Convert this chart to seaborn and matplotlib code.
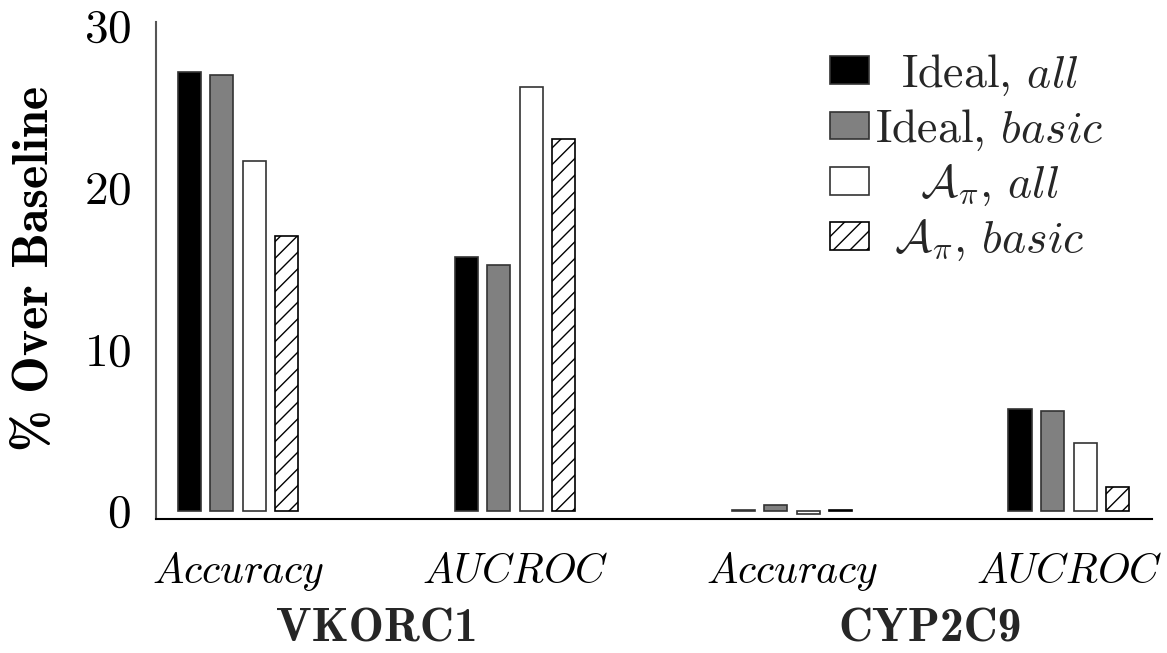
import matplotlib
matplotlib.use('Agg')
import matplotlib.pyplot as plt
import pandas as pd
import seaborn as sns

# 값은 그림에서 읽은 추정치
genes   = ['VKORC1', 'VKORC1', 'CYP2C9', 'CYP2C9']
metrics = ['Accuracy', 'AUCROC', 'Accuracy', 'AUCROC']
methods = [r'Ideal, $\mathit{all}$', r'Ideal, $\mathit{basic}$',
           r'$\mathcal{A}_\pi$, $\mathit{all}$', r'$\mathcal{A}_\pi$, $\mathit{basic}$']
ideal_all   = [27.1, 15.7, 0.05, 6.3]
ideal_basic = [26.9, 15.2, 0.35, 6.2]
apix_all    = [21.6, 26.2, -0.2, 4.2]
apix_basic  = [17.0, 23.0, 0.05, 1.5]
yticks = [0, 10, 20, 30]

sns.set_style('white')
plt.rcParams['font.family'] = 'serif'
plt.rcParams['font.serif'] = ['cmr10']
plt.rcParams['mathtext.fontset'] = 'cm'
plt.rcParams['axes.formatter.use_mathtext'] = True
plt.rcParams['hatch.linewidth'] = 1.0

keys = [g + ' ' + m for g, m in zip(genes, metrics)]
rows = []
for meth, vals in zip(methods, [ideal_all, ideal_basic, apix_all, apix_basic]):
    for k, v in zip(keys, vals):
        rows.append({'key': k, 'method': meth, 'value': v})
df = pd.DataFrame(rows)

fig = plt.figure(figsize=(11.67, 6.53), dpi=100)
ax = fig.add_axes([0.1337, 0.2052, 0.8534, 0.7611])

sns.barplot(data=df, x='key', y='value', hue='method', order=keys, hue_order=methods,
            palette=['black', '#808080', 'white', 'white'], edgecolor='#333333',
            linewidth=1.2, width=0.47, gap=0.29, legend=False, ax=ax)

for p in ax.containers[3].patches:
    p.set_hatch('//')
    p.set_edgecolor('black')

ax.set_xlim(-0.296, 3.30)
ax.set_ylim(-0.5, 30.2)
ax.set_yticks(yticks)
ax.set_xticks(range(4))
ax.set_xticklabels(['$' + m + '$' for m in metrics], fontsize=30)
for lbl in ax.get_xticklabels():
    lbl.set_va('baseline')
ax.tick_params(axis='y', direction='inout', length=14, width=1.0, color='#777777',
               labelsize=34, labelcolor='black', pad=11)
ax.tick_params(axis='x', direction='out', length=14, width=1.0, color='#999999',
               labelcolor='black', pad=32)

for s in ['top', 'right']:
    ax.spines[s].set_visible(False)
ax.spines['left'].set_color('#555555')
ax.spines['left'].set_linewidth(1.5)
ax.spines['bottom'].set_color('black')
ax.spines['bottom'].set_linewidth(1.5)

ax.set_xlabel('')
ax.set_ylabel('% Over Baseline', family='cmb10', fontsize=36, color='black')
ax.yaxis.set_label_coords(-0.098, 0.505)

# 유전자 그룹 이름
tr = ax.get_xaxis_transform()
ax.text(0.5, -0.222, 'VKORC1', family='cmb10', transform=tr, ha='center', va='center', fontsize=34)
ax.text(2.5, -0.222, 'CYP2C9', family='cmb10', transform=tr, ha='center', va='center', fontsize=34)

leg = ax.legend(ax.containers, methods, loc='upper right', frameon=False, fontsize=33,
                handlelength=0.85, handleheight=0.55, handletextpad=0.15, labelspacing=0.22,
                bbox_to_anchor=(0.975, 0.985), borderaxespad=0.1)

# 범례 글자를 가운데 정렬
fig.canvas.draw()
r = fig.canvas.get_renderer()
texts = leg.get_texts()
widths = [t.get_window_extent(r).width for t in texts]
wmax = max(widths)
for t, w in zip(texts, widths):
    t.set_x((wmax - w) / 2)

fig.savefig('out.png', dpi=100)
